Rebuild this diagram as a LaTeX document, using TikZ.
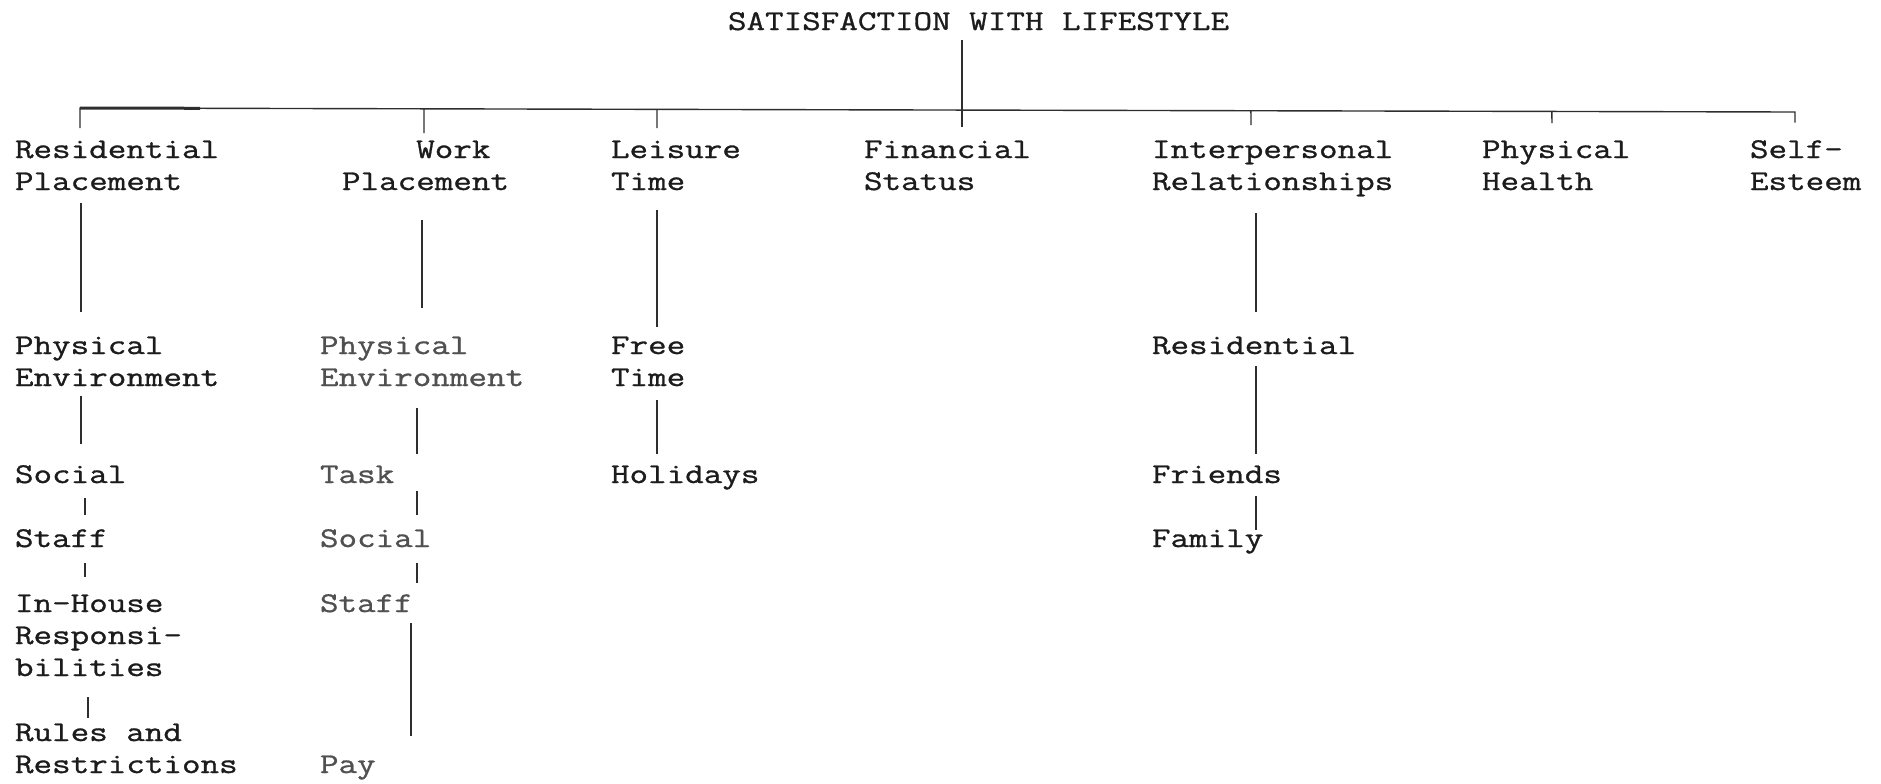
\documentclass[tikz,border=0pt]{standalone}
\usepackage{fontspec}
\newfontfamily\tw{Latin Modern Mono}[FakeStretch=1.26, FakeBold=1]
\usetikzlibrary{calc}
\definecolor{ink}{HTML}{1C1C1C}
\definecolor{inkfaint}{HTML}{505050}
\definecolor{lineink}{HTML}{2E2E2E}
\begin{document}
\begin{tikzpicture}[x=0.5pt,y=-0.5pt,
  lbl/.style={font=\tw\fontsize{14.3}{16}\selectfont, text=ink, inner sep=0pt, outer sep=0pt,
    anchor=base west, align=left,
    execute at begin node={\rule{0pt}{8.75pt}},
    execute at end node={\rule[-4pt]{0pt}{4pt}}},
  faint/.style={lbl, text=inkfaint},
  conn/.style={draw=lineink, line width=0.7pt},
]
\useasboundingbox (0,0) rectangle (1881,783);

% ---- nodes (placed at the baseline of their last line) ----
\node[lbl] (title) at (728,30) {SATISFACTION WITH LIFESTYLE};

\node[lbl] (res)   at (15,190)   {Residential\\Placement};
\node[lbl] (work)  at (342,190)  {\hspace*{4\fontcharwd\font`M}Work\\Placement};
\node[lbl] (leis)  at (611,190)  {Leisure\\Time};
\node[lbl] (fin)   at (864,190)  {Financial\\Status};
\node[lbl] (inter) at (1152,190) {Interpersonal\\Relationships};
\node[lbl] (phh)   at (1482,190) {Physical\\Health};
\node[lbl] (self)  at (1750,190) {Self-\\Esteem};

\node[lbl]   (physA) at (15,386)   {Physical\\Environment};
\node[faint] (physB) at (320,386)  {Physical\\Environment};
\node[lbl]   (free)  at (611,386)  {Free\\Time};
\node[lbl]   (resI)  at (1152,354) {Residential};

\node[lbl]   (socA)  at (15,483)   {Social};
\node[faint] (task)  at (320,483)  {Task};
\node[lbl]   (hol)   at (611,483)  {Holidays};
\node[lbl]   (fri)   at (1152,483) {Friends};

\node[lbl]   (stA)   at (15,547)   {Staff};
\node[faint] (socB)  at (320,547)  {Social};
\node[lbl]   (fam)   at (1152,547) {Family};

\node[lbl]   (inh)   at (15,676)   {In-House\\Responsi-\\bilities};
\node[faint] (stB)   at (320,612)  {Staff};

\node[lbl]   (rules) at (15,773)   {Rules and\\Restrictions};
\node[faint] (pay)   at (320,773)  {Pay};

% ---- column coordinates ----
\coordinate (barL) at (80,108);
\coordinate (barR) at (1795,112);
\coordinate (cWork) at (424,110);
\coordinate (cLeis) at (657,110);
\coordinate (cFin)  at (962,110);
\coordinate (cInt)  at (1251,110);
\coordinate (cPhh)  at (1552,110);

\coordinate (kRes)   at (81,0);
\coordinate (kWork)  at (422,0);
\coordinate (kLeis)  at (657,0);
\coordinate (kInt)   at (1256,0);
\coordinate (mRes)   at (85,0);
\coordinate (mWork)  at (417,0);
\coordinate (mRes2)  at (88,0);
\coordinate (mWork2) at (411,0);

% ---- top bar ----
\draw[conn, shorten <=6.25pt, shorten >=8.75pt] (res.north -| barL) -- (barL) -- (barR) -- (self.north -| barR);
\draw[draw=lineink, line width=1.5pt] (barL) -- ($(barL)!0.07!(barR)$);
\draw[conn, line width=1pt, shorten <=1pt, shorten >=6.75pt] (title.south -| cFin) -- (fin.north -| cFin);
\draw[conn, shorten >=3.75pt] ($(barL)!(cWork)!(barR)$) -- (work.north -| cWork);
\draw[conn, shorten >=6.25pt] ($(barL)!(cLeis)!(barR)$) -- (leis.north -| cLeis);
\draw[conn, shorten >=7.75pt] ($(barL)!(cInt)!(barR)$) -- (inter.north -| cInt);
\draw[conn, shorten >=8.75pt] ($(barL)!(cPhh)!(barR)$) -- (phh.north -| cPhh);

% ---- level 1 -> 2 ----
\draw[conn, shorten <=2.5pt, shorten >=12.25pt] (res.south -| kRes) -- (physA.north -| kRes);
\draw[conn, shorten <=11pt, shorten >=14.25pt] (work.south -| kWork) -- (physB.north -| kWork);
\draw[conn, shorten <=6pt, shorten >=4.75pt] (leis.south -| kLeis) -- (free.north -| kLeis);
\draw[conn, shorten <=7.5pt, shorten >=12.25pt] (inter.south -| kInt) -- (resI.north -| kInt);

% ---- level 2 -> 3 ----
\draw[conn, shorten <=1pt, shorten >=10.75pt] (physA.south -| kRes) -- (socA.north -| kRes);
\draw[conn, shorten <=7pt, shorten >=5.75pt] (physB.south -| mWork) -- (task.north -| mWork);
\draw[conn, shorten <=3pt, shorten >=5.75pt] (free.south -| kLeis) -- (hol.north -| kLeis);
\draw[conn, shorten <=2pt, shorten >=5.75pt] (resI.south -| kInt) -- (fri.north -| kInt);

% ---- level 3 -> 4 ----
\draw[conn, shorten <=3.5pt, shorten >=7.25pt] (socA.south -| mRes) -- (stA.north -| mRes);
\draw[conn, shorten >=7.25pt] (task.south -| mWork) -- (socB.north -| mWork);
\draw[conn, shorten <=2.5pt] (fri.south -| kInt) -- (fam.north -| kInt);

% ---- level 4 -> 5 ----
\draw[conn, shorten <=4pt, shorten >=8.75pt] (stA.south -| mRes) -- (inh.north -| mRes);
\draw[conn, shorten <=4pt, shorten >=5.75pt] (socB.south -| mWork) -- (stB.north -| mWork);

% ---- level 5 -> 6 ----
\draw[conn, shorten <=6.5pt, shorten >=2.75pt] (inh.south -| mRes2) -- (rules.north -| mRes2);
\draw[conn, shorten <=1.5pt, shorten >=9.75pt] (stB.south -| mWork2) -- (pay.north -| mWork2);
\end{tikzpicture}
\end{document}
